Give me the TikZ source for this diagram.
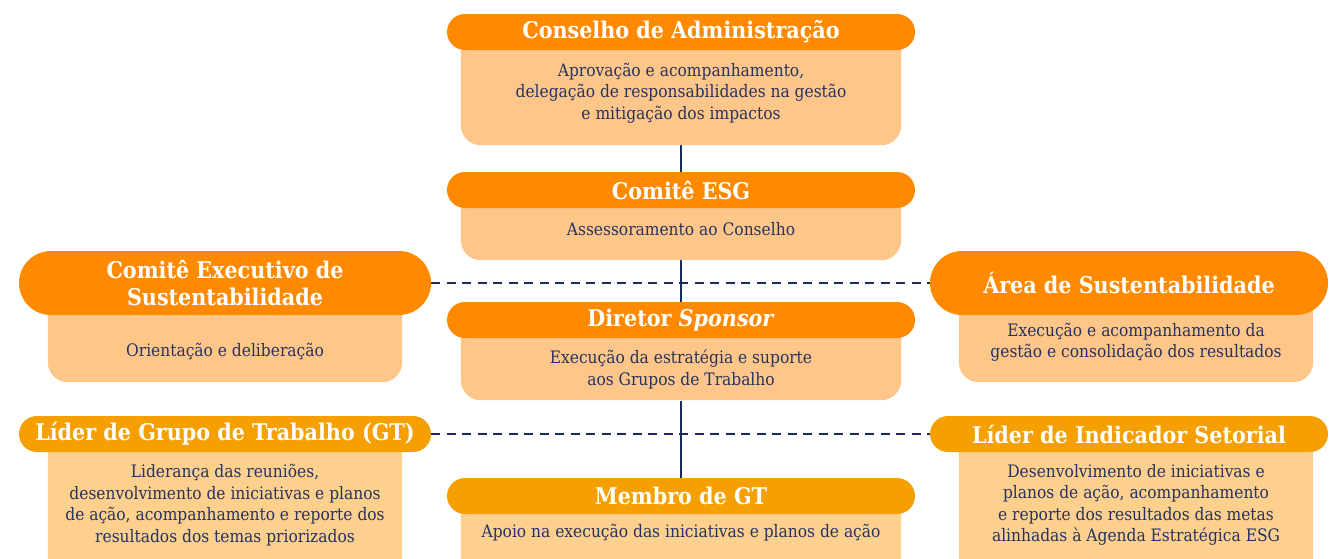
\documentclass[tikz,border=0pt]{standalone}
\usepackage{fontspec}
\setmainfont{DejaVu Serif Condensed}
\definecolor{hdA}{HTML}{FF8A00}
\definecolor{hdB}{HTML}{F5A000}
\definecolor{bdA}{HTML}{FFC68A}
\definecolor{bdB}{HTML}{FDD08E}
\definecolor{navy}{HTML}{1B2A5C}
\definecolor{txt}{HTML}{26325F}
\pgfdeclarelayer{bg}
\pgfsetlayers{bg,main}
\begin{document}
\begin{tikzpicture}[x=1pt,y=-1pt,
  head/.style={rounded corners=18pt, text=white, font=\bfseries\fontsize{23}{27}\selectfont, inner sep=0pt, minimum height=36pt, align=center},
  body/.style={text=txt, font=\fontsize{17.2}{21.5}\selectfont, inner sep=0pt, align=center},
  link/.style={navy, line width=1.8pt},
  dlink/.style={navy, line width=1.8pt, dash pattern=on 9pt off 6.5pt}
]
\clip (0,0) rectangle (1329,558);

% headers
\node[head, fill=hdA, minimum width=468pt] (caH) at (681,32) {Conselho de Administração};
\node[head, fill=hdA, minimum width=468pt] (ceH) at (681,190) {Comitê ESG};
\node[head, fill=hdA, minimum width=412pt, minimum height=64pt, rounded corners=32pt] (cesH) at (225,283) {Comitê Executivo de\\Sustentabilidade};
\node[head, fill=hdA, minimum width=398pt, minimum height=64pt, rounded corners=32pt] (areaH) at (1129,283) {Área de Sustentabilidade};
\node[head, fill=hdA, minimum width=468pt] (dsH) at (681,320) {Diretor \textit{Sponsor}};
\node[head, fill=hdB, minimum width=412pt] (lgH) at (225,434) {Líder de Grupo de Trabalho (GT)};
\node[head, fill=hdB, minimum width=398pt] (liH) at (1129,434) {Líder de Indicador Setorial};
\node[head, fill=hdB, minimum width=468pt] (mgH) at (681,496) {Membro de GT};

% bodies (text)
\node[body, minimum width=440pt, minimum height=86pt] (caB) at (681,93) {Aprovação e acompanhamento,\\delegação de responsabilidades na gestão\\e mitigação dos impactos};
\node[body, minimum width=440pt, minimum height=42pt] (ceB) at (681,229) {Assessoramento ao Conselho};
\node[body, minimum width=354pt, minimum height=72pt] (cesB) at (225,351) {Orientação e deliberação};
\node[body, minimum width=354pt, minimum height=54pt] (areaB) at (1136,342) {Execução e acompanhamento da\\gestão e consolidação dos resultados};
\node[body, minimum width=440pt, minimum height=63pt] (dsB) at (681,369.5) {Execução da estratégia e suporte\\aos Grupos de Trabalho};
\node[body, minimum width=354pt, minimum height=106pt] (lgB) at (225,505) {Liderança das reuniões,\\desenvolvimento de iniciativas e planos\\de ação, acompanhamento e reporte dos\\resultados dos temas priorizados};
\node[body, minimum width=354pt, minimum height=106pt] (liB) at (1136,505) {Desenvolvimento de iniciativas e\\planos de ação, acompanhamento\\e reporte dos resultados das metas\\alinhadas à Agenda Estratégica ESG};
\node[body, minimum width=440pt, minimum height=38pt] (mgB) at (681,533) {Apoio na execução das iniciativas e planos de ação};

\begin{pgfonlayer}{bg}
  \draw[link] (caB.south) -- (ceH.north);
  \draw[link] (ceB.south) -- (dsH.north);
  \draw[link] (dsB.south) -- (mgH.north);
  \draw[dlink] (cesH.east) -- (areaH.west);
  \draw[dlink] (lgH.east) -- (liH.west);
  \fill[bdA, rounded corners=20pt] ([yshift=24pt]caB.north west) rectangle ([yshift=-9pt]caB.south east);
  \fill[bdA, rounded corners=20pt] ([yshift=24pt]ceB.north west) rectangle ([yshift=-10pt]ceB.south east);
  \fill[bdA, rounded corners=20pt] ([yshift=30pt]cesB.north west) rectangle ([yshift=5pt]cesB.south east);
  \fill[bdA, rounded corners=20pt] ([yshift=30pt]areaB.north west) rectangle ([yshift=-13pt]areaB.south east);
  \fill[bdA, rounded corners=20pt] ([yshift=24pt]dsB.north west) rectangle ([yshift=1pt]dsB.south east);
  \fill[bdB, rounded corners=20pt] ([yshift=24pt]lgB.north west) rectangle ([yshift=-25pt]lgB.south east);
  \fill[bdB, rounded corners=20pt] ([yshift=24pt]liB.north west) rectangle ([yshift=-25pt]liB.south east);
  \fill[bdB, rounded corners=20pt] ([yshift=24pt]mgB.north west) rectangle ([yshift=-30pt]mgB.south east);
\end{pgfonlayer}
\end{tikzpicture}
\end{document}
